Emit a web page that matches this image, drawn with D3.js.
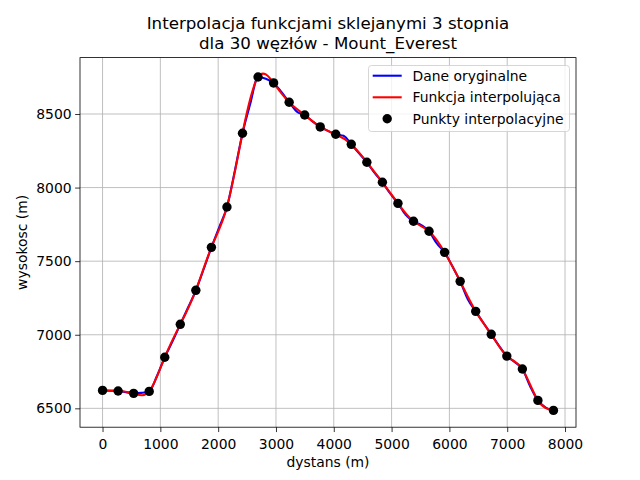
<!DOCTYPE html>
<html><head><meta charset="utf-8">
<script src="https://cdn.jsdelivr.net/npm/d3@7"></script>
<style>body{margin:0;background:#fff}svg{display:block}text{font-family:"DejaVu Sans",sans-serif;fill:#000}</style>
</head><body>
<svg id="c" width="640" height="480"></svg>
<script>
// Interpolation nodes (30 nodes)
const nodeX = [0,269,538,807,1076,1345,1614,1883,2152,2421,2690,2959,3228,3497,3766,4034,4303,4572,4841,5110,5379,5648,5917,6186,6455,6724,6993,7262,7531,7800];
const nodeY = [6622,6618,6602,6615,6847,7071,7302,7594,7868,8369,8751,8711,8580,8493,8412,8362,8294,8172,8036,7893,7771,7703,7560,7363,7159,7003,6855,6767,6554,6486];
// Original data (read between nodes)
const origMidY = [6620,6610,6605,6720,6955,7185,7445,7730,8110,8570,8740,8650,8515,8450,8385,8352,8233,8100,7960,7815,7745,7620,7465,7240,7080,6925,6815,6650,6505];
const xTicks = [0,1000,2000,3000,4000,5000,6000,7000,8000];
const yTicks = [6500,7000,7500,8000,8500];
const titleLines = ["Interpolacja funkcjami sklejanymi 3 stopnia","dla 30 węzłów - Mount_Everest"];
const legendLabels = ["Dane oryginalne","Funkcja interpolująca","Punkty interpolacyjne"];

const origData = [];
nodeX.forEach((x,i)=>{
  origData.push([x,nodeY[i]]);
  if(i<origMidY.length) origData.push([(x+nodeX[i+1])/2, origMidY[i]]);
});
const nodes = nodeX.map((x,i)=>[x,nodeY[i]]);

const L=80,R=576,T=57.6,B=427.2;
const svg=d3.select("#c");
const xmin=0,xmax=7800,ymin=6486,ymax=8769;
const xm=(xmax-xmin)*0.05, ym=(ymax-ymin)*0.05;
const x=d3.scaleLinear().domain([xmin-xm,xmax+xm]).range([L,R]);
const y=d3.scaleLinear().domain([ymin-ym,ymax+ym]).range([B,T]);

// grid
const g=svg.append("g");
g.selectAll(".gx").data(xTicks).join("line").attr("x1",d=>x(d)).attr("x2",d=>x(d)).attr("y1",T).attr("y2",B).attr("stroke","#b0b0b0").attr("stroke-width",0.8);
g.selectAll(".gy").data(yTicks).join("line").attr("y1",d=>y(d)).attr("y2",d=>y(d)).attr("x1",L).attr("x2",R).attr("stroke","#b0b0b0").attr("stroke-width",0.8);

const clip=svg.append("clipPath").attr("id","cl").append("rect").attr("x",L).attr("y",T).attr("width",R-L).attr("height",B-T);
const plot=svg.append("g").attr("clip-path","url(#cl)");
plot.append("path").datum(origData).attr("d",d3.line().x(d=>x(d[0])).y(d=>y(d[1])).curve(d3.curveMonotoneX)).attr("fill","none").attr("stroke","#0000ff").attr("stroke-width",2.08).attr("stroke-linejoin","round");
plot.append("path").datum(nodes).attr("d",d3.line().x(d=>x(d[0])).y(d=>y(d[1])).curve(d3.curveNatural)).attr("fill","none").attr("stroke","#ff0000").attr("stroke-width",2.08).attr("stroke-linejoin","round");
svg.append("g").selectAll("circle").data(nodes).join("circle").attr("cx",d=>x(d[0])).attr("cy",d=>y(d[1])).attr("r",4.7).attr("fill","#000");

// axes
const xa=svg.append("g").attr("transform",`translate(0,${B})`).call(d3.axisBottom(x).tickValues(xTicks).tickFormat(d3.format("d")).tickSize(4.86).tickPadding(3.5));
const ya=svg.append("g").attr("transform",`translate(${L},0)`).call(d3.axisLeft(y).tickValues(yTicks).tickFormat(d3.format("d")).tickSize(4.86).tickPadding(3.5));
[xa,ya].forEach(a=>{a.select(".domain").remove();a.selectAll("line").attr("stroke","#000").attr("stroke-width",0.8);a.selectAll("text").attr("font-size","13.9px").attr("font-family","DejaVu Sans").attr("fill","#000");});
xa.selectAll("text").attr("dy","0.95em");
svg.append("rect").attr("x",L).attr("y",T).attr("width",R-L).attr("height",B-T).attr("fill","none").attr("stroke","#000").attr("stroke-width",0.8);

// labels
svg.append("text").attr("x",(L+R)/2).attr("y",467).attr("text-anchor","middle").attr("font-size","13.9px").text("dystans (m)");
svg.append("text").attr("transform",`translate(27,${(T+B)/2}) rotate(-90)`).attr("text-anchor","middle").attr("font-size","13.9px").text("wysokosc (m)");
titleLines.forEach((t,i)=>svg.append("text").attr("x",(L+R)/2).attr("y",28.5+i*20).attr("text-anchor","middle").attr("font-size","16.67px").text(t));

// legend
const lg=svg.append("g");
lg.append("rect").attr("x",368.5).attr("y",65.5).attr("width",201).attr("height",66).attr("rx",3).attr("fill","#fff").attr("fill-opacity",0.8).attr("stroke","#cccccc").attr("stroke-width",0.8);
const rows=[75.7,97.3,118.7];
lg.append("line").attr("x1",372.7).attr("x2",401.7).attr("y1",rows[0]).attr("y2",rows[0]).attr("stroke","#0000ff").attr("stroke-width",2.08);
lg.append("line").attr("x1",372.7).attr("x2",401.7).attr("y1",rows[1]).attr("y2",rows[1]).attr("stroke","#ff0000").attr("stroke-width",2.08);
lg.append("circle").attr("cx",387.2).attr("cy",rows[2]).attr("r",4.7).attr("fill","#000");
legendLabels.forEach((t,i)=>lg.append("text").attr("x",412.5).attr("y",rows[i]).attr("dy","0.35em").attr("font-size","13.9px").text(t));
</script>
</body></html>
